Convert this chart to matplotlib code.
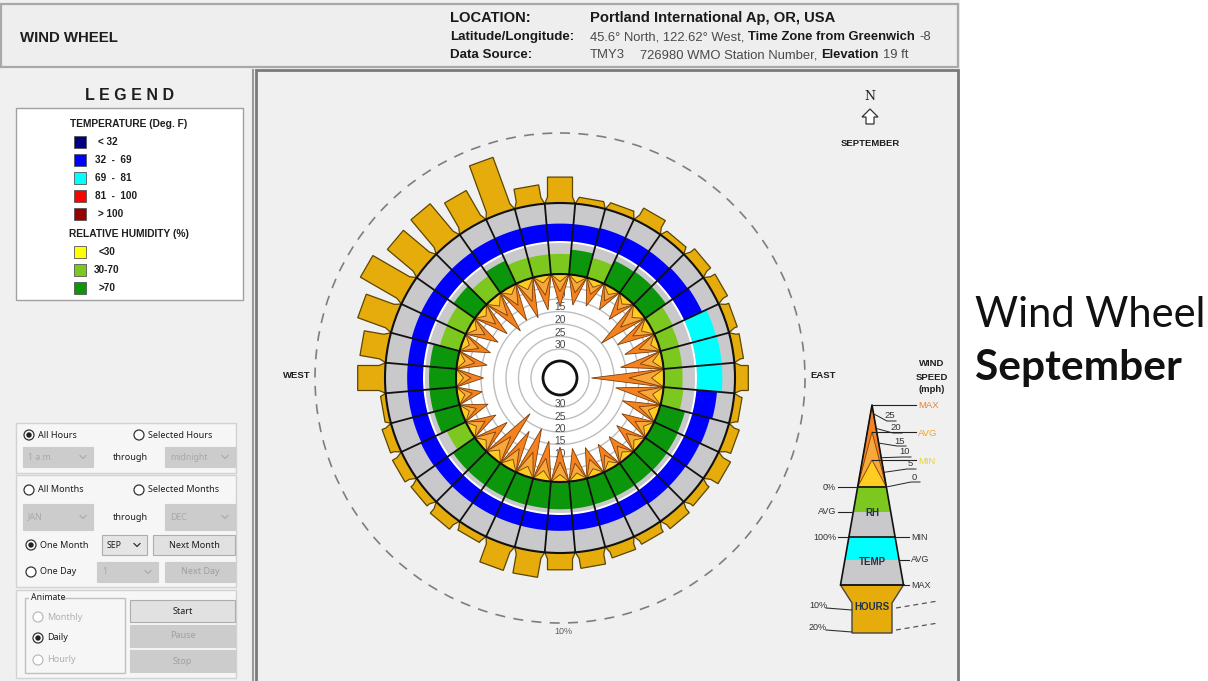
import numpy as np
import matplotlib
matplotlib.use("Agg")
import matplotlib.pyplot as plt
from matplotlib.patches import Polygon, Rectangle, Circle

FIG_W, FIG_H = 1208, 681
CX, CY = 560, 378

UI_FONT = "Liberation Sans"
CTRL_FONT = "Noto Sans"

# September wind wheel, one sector per 10 deg of compass bearing
BEARINGS = list(range(0, 360, 10))
HOURS_PCT = [3.7, 0.9, 1.0, 2.0, 0.9, 1.6, 1.6, 1.3, 1.3, 1.9,
             1.1, 1.6, 2.1, 1.3, 1.6, 1.4, 1.7, 2.3, 2.4, 3.6,
             3.6, 1.1, 1.7, 1.3, 1.6, 1.4, 0.7, 3.9, 3.7, 5.1,
             6.9, 5.7, 6.0, 4.9, 7.9, 2.7]
SPEED_MAX = [13, 12, 11, 10, 11, 20, 15, 14, 17, 29,
             19, 15, 13, 12, 11, 11, 12, 13, 14, 16,
             20, 17, 23, 14, 12, 11, 10, 11, 12, 12,
             13, 14, 17, 15, 16, 14]
SPEED_AVG = [7, 7, 6, 6, 6, 10, 8, 8, 9, 14,
             10, 8, 7, 7, 6, 6, 7, 7, 8, 9,
             10, 9, 11, 8, 7, 6, 6, 6, 7, 7,
             7, 8, 9, 8, 9, 8]
SPEED_MIN = [3, 3, 3, 3, 3, 4, 4, 3, 4, 5,
             4, 4, 3, 3, 3, 3, 3, 3, 3, 4,
             4, 4, 4, 3, 3, 3, 3, 3, 3, 3,
             3, 3, 4, 3, 4, 3]
RH_AVG = [65, 80, 66, 82, 84, 82, 66, 62, 60, 60,
          64, 82, 84, 86, 85, 86, 87, 88, 88, 87,
          88, 87, 86, 86, 68, 85, 87, 87, 86, 66,
          68, 84, 67, 82, 66, 65]
TEMP_AVG = [62, 62, 63, 63, 63, 64, 65, 71, 72, 72,
            66, 63, 62, 61, 61, 60, 60, 60, 60, 60,
            60, 60, 60, 60, 61, 60, 60, 60, 60, 61,
            61, 61, 61, 62, 62, 62]

TEMP_LABELS = ["< 32", "32  -  69", "69  -  81", "81  -  100", "> 100"]
TEMP_EDGES = [32, 69, 81, 100]
TEMP_COLORS = ["#000080", "#0000FF", "#00FFFF", "#FF0000", "#990000"]
RH_LABELS = ["<30", "30-70", ">70"]
RH_EDGES = [30, 70]
RH_COLORS = ["#FFFF00", "#7DC81E", "#0C960C"]

SPEED_RINGS = [5, 10, 15, 20, 25, 30]
SPEED_TICKS = [25, 20, 15, 10, 5, 0]

# wheel geometry in pixels
R_HUB = 17
R_CALM = 104
R_RH = 135
R_T0 = 137
R_T1 = 175
R_10PCT = 245
PX_PER_MPH = 2.5
PX_PER_PCT = (R_10PCT - R_T1) / 10
TEMP_LO, TEMP_HI = 40, 88
HALF = 5
BAR_TAPER, BAR_HALF = 6, 12.5

GRAY_BAND = "#C9C9CC"
C_MAX, C_AVG, C_MIN = "#F5821F", "#F8A83A", "#FFCC22"
C_EDGE = "#7A3E0A"
C_HOURS = "#E6AC0C"

fig = plt.figure(figsize=(FIG_W / 100, FIG_H / 100), dpi=100)
ax = fig.add_axes([0, 0, 1, 1])
ax.set_xlim(0, FIG_W)
ax.set_ylim(FIG_H, 0)
ax.axis("off")
renderer = fig.canvas.get_renderer()


def txt(x, y, s, size=7, bold=False, color="#1e1e1e", ha="left", family=UI_FONT, z=10, **kw):
    return ax.text(x, y, s, fontsize=size, fontweight="bold" if bold else "normal",
                   color=color, ha=ha, va="center", family=family, zorder=z, **kw)


def runs(x, y, parts, size, gap=4):
    for s, bold in parts:
        t = txt(x, y, s, size=size, bold=bold, color="#1a1a1a" if bold else "#4a4a4a")
        x += t.get_window_extent(renderer).width + gap


def pt(r, brg):
    a = np.radians(brg)
    return (CX + r * np.sin(a), CY - r * np.cos(a))


def arc(r, b0, b1, n=10):
    return [pt(r, b) for b in np.linspace(b0, b1, n)]


def band(r0, r1, b0, b1, color, z=4):
    ax.add_patch(Polygon(arc(r0, b0, b1) + arc(r1, b1, b0), closed=True,
                         fc=color, ec="none", zorder=z))


def hour_bar(brg, pct):
    a = np.radians(brg)
    u = np.array([np.sin(a), -np.cos(a)])
    v = np.array([np.cos(a), np.sin(a)])
    c = np.array([CX, CY])
    bu = R_T1 * np.cos(np.radians(HALF))
    bh = R_T1 * np.sin(np.radians(HALF))
    top = R_T1 + pct * PX_PER_PCT
    sh = R_T1 + BAR_TAPER
    if top <= sh:
        wt = bh + (BAR_HALF - bh) * (top - bu) / (sh - bu)
        pts = [c + bu * u - bh * v, c + top * u - wt * v,
               c + top * u + wt * v, c + bu * u + bh * v]
    else:
        pts = [c + bu * u - bh * v, c + sh * u - BAR_HALF * v, c + top * u - BAR_HALF * v,
               c + top * u + BAR_HALF * v, c + sh * u + BAR_HALF * v, c + bu * u + bh * v]
    ax.add_patch(Polygon(pts, closed=True, fc=C_HOURS, ec="#5C4600", lw=0.9, zorder=2))


def spike(brg, speed, color):
    tip = pt(R_CALM - PX_PER_MPH * speed, brg)
    ax.add_patch(Polygon(arc(R_CALM, brg + HALF, brg - HALF, 5) + [tip], closed=True,
                         fc=color, ec=C_EDGE, lw=0.6, zorder=6))


def radio(x, y, on, enabled=True):
    ax.add_patch(Circle((x, y), 5, fc="white", ec="#333333" if enabled else "#BBBBBB",
                        lw=0.9, zorder=11))
    if on:
        ax.add_patch(Circle((x, y), 2.7, fc="#222222", ec="none", zorder=12))


def dropdown(x0, y0, x1, y1, label, enabled=False):
    fc, ec, tc = ("#E5E5E5", "#ADADAD", "#1e1e1e") if enabled else ("#CCCCCC", "#CCCCCC", "#A8A8A8")
    ax.add_patch(Rectangle((x0, y0), x1 - x0, y1 - y0, fc=fc, ec=ec, lw=0.8, zorder=10))
    yc = (y0 + y1) / 2
    txt(x0 + 5, yc, label, size=6.3, color=tc, family=CTRL_FONT, z=11)
    xc = x1 - 10
    ax.plot([xc - 3, xc, xc + 3], [yc - 1.5, yc + 1.5, yc - 1.5], color=tc, lw=0.8, zorder=11)


def button(x0, y0, x1, y1, label, enabled=True):
    fc, ec, tc = ("#E1E1E1", "#ADADAD", "#1e1e1e") if enabled else ("#CCCCCC", "#CCCCCC", "#A0A0A0")
    ax.add_patch(Rectangle((x0, y0), x1 - x0, y1 - y0, fc=fc, ec=ec, lw=0.8, zorder=10))
    txt((x0 + x1) / 2, (y0 + y1) / 2, label, size=6.5, color=tc, ha="center", family=CTRL_FONT, z=11)


# ---- window frame ----
ax.add_patch(Rectangle((0, 0), 960, FIG_H, fc="#F0F0F0", ec="none", zorder=0))
ax.add_patch(Rectangle((1, 4), 957, 63, fc="#EEEEEE", ec="#A8A8A8", lw=1.6, zorder=1))
ax.add_patch(Rectangle((256, 70), 702, 615, fc="#F0F0F0", ec="#7A7A7A", lw=2, zorder=1))
ax.plot([253, 253], [70, FIG_H], color="#9A9A9A", lw=1.5, zorder=1)

# ---- header ----
txt(20, 38, "WIND WHEEL", size=10.8, bold=True)
runs(450, 18, [("LOCATION:", True)], 10.6)
runs(590, 18, [("Portland International Ap, OR, USA", True)], 10.6)
runs(450, 37, [("Latitude/Longitude:", True)], 9.6)
runs(590, 37, [("45.6° North, 122.62° West,", False), ("Time Zone from Greenwich", True), ("-8", False)], 9.4)
runs(450, 55, [("Data Source:", True)], 9.6)
runs(590, 55, [("TMY3", False), ("   726980 WMO Station Number,", False), ("Elevation", True), ("19 ft", False)], 9.4)

# ---- legend box ----
txt(130, 96, "L E G E N D", size=11.5, bold=True, ha="center")
ax.add_patch(Rectangle((16, 108), 227, 192, fc="white", ec="#A0A0A0", lw=1, zorder=2))
txt(129, 124, "TEMPERATURE (Deg. F)", size=7.4, bold=True, ha="center")
for i, (lab, col) in enumerate(zip(TEMP_LABELS, TEMP_COLORS)):
    y = 142 + 18 * i
    ax.add_patch(Rectangle((74, y - 6), 12, 12, fc=col, ec="#555555", lw=0.6, zorder=3))
    txt(95 if "-" in lab else 98, y, lab, size=7.2, bold=True)
txt(129, 234, "RELATIVE HUMIDITY (%)", size=7.4, bold=True, ha="center")
for i, (lab, col) in enumerate(zip(RH_LABELS, RH_COLORS)):
    y = 252 + 18 * i
    ax.add_patch(Rectangle((74, y - 6), 12, 12, fc=col, ec="#555555", lw=0.6, zorder=3))
    txt(94 if "-" in lab else 99, y, lab, size=7.2, bold=True)

# ---- controls ----
for (x0, y0, x1, y1) in [(16, 423, 236, 473), (16, 475, 236, 587), (16, 590, 236, 678)]:
    ax.add_patch(Rectangle((x0, y0), x1 - x0, y1 - y0, fc="#F6F6F6", ec="#D2D2D2", lw=1, zorder=2))
radio(29, 435, True)
txt(38, 435, "All Hours", size=6.5, family=CTRL_FONT)
radio(139, 435, False)
txt(148, 435, "Selected Hours", size=6.5, family=CTRL_FONT)
dropdown(23, 447, 93, 467, "1 a.m.")
txt(130, 457, "through", size=6.5, family=CTRL_FONT, ha="center")
dropdown(165, 447, 235, 467, "midnight")
radio(29, 490, False)
txt(38, 490, "All Months", size=6.5, family=CTRL_FONT)
radio(139, 490, False)
txt(148, 490, "Selected Months", size=6.5, family=CTRL_FONT)
dropdown(23, 504, 93, 530, "JAN")
txt(130, 517, "through", size=6.5, family=CTRL_FONT, ha="center")
dropdown(165, 504, 235, 530, "DEC")
radio(31, 545, True)
txt(40, 545, "One Month", size=6.5, family=CTRL_FONT)
dropdown(102, 535, 147, 555, "SEP", enabled=True)
button(153, 535, 235, 555, "Next Month")
radio(31, 572, False)
txt(40, 572, "One Day", size=6.5, family=CTRL_FONT)
dropdown(97, 562, 158, 582, "1")
button(165, 562, 235, 582, "Next Day", enabled=False)
ax.add_patch(Rectangle((25, 598), 100, 75, fc="none", ec="#C0C0C0", lw=1, zorder=10))
ax.add_patch(Rectangle((29, 593), 33, 10, fc="#F6F6F6", ec="none", zorder=10.5))
txt(31, 597, "Animate", size=6.3, family=CTRL_FONT, z=11)
radio(38, 617, False, enabled=False)
txt(47, 617, "Monthly", size=6.5, family=CTRL_FONT, color="#B0B0B0")
radio(38, 638, True)
txt(47, 638, "Daily", size=6.5, family=CTRL_FONT)
radio(38, 660, False, enabled=False)
txt(47, 660, "Hourly", size=6.5, family=CTRL_FONT, color="#B0B0B0")
button(130, 600, 235, 622, "Start")
button(130, 625, 235, 647, "Pause", enabled=False)
button(130, 650, 235, 672, "Stop", enabled=False)

# ---- wind wheel ----
ax.add_patch(Circle((CX, CY), R_10PCT, fc="none", ec="#7E7E7E", lw=1.2,
                    ls=(0, (6, 5)), zorder=1.5))
for b, p in zip(BEARINGS, HOURS_PCT):
    hour_bar(b, p)
ax.add_patch(Circle((CX, CY), R_T1, fc="white", ec="none", zorder=3))

for b, rh, t in zip(BEARINGS, RH_AVG, TEMP_AVG):
    b0, b1 = b - HALF, b + HALF
    band(R_CALM, R_RH, b0, b1, GRAY_BAND)
    band(R_CALM, R_CALM + (R_RH - R_CALM) * rh / 100, b0, b1,
         RH_COLORS[np.digitize(rh, RH_EDGES)], z=4.1)
    band(R_T0, R_T1, b0, b1, GRAY_BAND)
    frac = (t - TEMP_LO) / (TEMP_HI - TEMP_LO)
    band(R_T0, R_T0 + (R_T1 - R_T0) * frac, b0, b1,
         TEMP_COLORS[np.digitize(t, TEMP_EDGES)], z=4.1)

for s in SPEED_RINGS:
    ax.add_patch(Circle((CX, CY), R_CALM - PX_PER_MPH * s, fc="none", ec="#BDBDBD", lw=1.0, zorder=5))
for s in SPEED_RINGS[1:]:
    r = R_CALM - PX_PER_MPH * s
    txt(CX, CY - r - 4, str(s), size=7.4, color="#4A4A4A", ha="center", z=5.5)
    txt(CX, CY + r - 3, str(s), size=7.4, color="#4A4A4A", ha="center", z=5.5)

for b, smax, savg, smin in zip(BEARINGS, SPEED_MAX, SPEED_AVG, SPEED_MIN):
    spike(b, smax, C_MAX)
    spike(b, savg, C_AVG)
    spike(b, smin, C_MIN)

for b in BEARINGS:
    (x0, y0), (x1, y1) = pt(R_CALM, b - HALF), pt(R_T1, b - HALF)
    ax.plot([x0, x1], [y0, y1], color="#111111", lw=1.3, zorder=7)
for r in (R_CALM, R_T1):
    ax.add_patch(Circle((CX, CY), r, fc="none", ec="#111111", lw=1.5, zorder=7))
ax.add_patch(Circle((CX, CY), R_HUB, fc="white", ec="#111111", lw=2, zorder=8))

txt(297, 375, "WEST", size=6.8, bold=True, ha="center")
txt(823, 375, "EAST", size=6.8, bold=True, ha="center")
txt(CX + 3, CY + R_10PCT + 8, "10%", size=6.5, color="#606060", ha="center")

# north arrow
txt(870, 97, "N", size=9, family="DejaVu Serif", ha="center")
ax.add_patch(Polygon([(870, 109), (878, 117), (874, 117), (874, 124), (866, 124), (866, 117), (862, 117)],
                     closed=True, fc="white", ec="#333333", lw=0.9, zorder=10))
txt(870, 143, "SEPTEMBER", size=6.8, bold=True, ha="center")

# ---- wind wheel key ----
LX, APEX = 872, 405
Y0, Y_RH, Y100, Y_T, YMAX = 487, 512, 537, 560, 585
SLOPE = 0.175


def hw(y):
    return SLOPE * (y - APEX)


def trap(ya, yb, color):
    ax.add_patch(Polygon([(LX - hw(ya), ya), (LX + hw(ya), ya), (LX + hw(yb), yb), (LX - hw(yb), yb)],
                         closed=True, fc=color, ec="none", zorder=9))


for ytip, col in [(APEX, C_MAX), (432, C_AVG), (460, C_MIN)]:
    ax.add_patch(Polygon([(LX, ytip), (LX + hw(Y0), Y0), (LX - hw(Y0), Y0)], closed=True,
                         fc=col, ec=C_EDGE, lw=0.6, zorder=9))
trap(Y0, Y_RH, RH_COLORS[1])
trap(Y_RH, Y100, GRAY_BAND)
trap(Y100, Y_T, TEMP_COLORS[2])
trap(Y_T, YMAX, GRAY_BAND)
ax.plot([LX - hw(YMAX), LX, LX + hw(YMAX)], [YMAX, APEX, YMAX], color="#111111", lw=1.2, zorder=10)
ax.add_patch(Polygon([(LX - hw(YMAX), YMAX), (LX + hw(YMAX), YMAX), (892, 603), (892, 633), (852, 633), (852, 603)],
                     closed=True, fc=C_HOURS, ec="#444444", lw=1, zorder=9))
for y in (Y0, Y100, YMAX):
    ax.plot([LX - hw(y), LX + hw(y)], [y, y], color="#111111", lw=1.2, zorder=10)

for ytip, lab, col in [(APEX, "MAX", "#F08228"), (432, "AVG", "#F5A623"), (460, "MIN", "#EBD21E")]:
    ax.plot([LX, 916], [ytip, ytip], color="#222222", lw=0.8, zorder=10)
    txt(918, ytip + 1, lab, size=6.8, color=col, z=10)
for s, (lx, ly) in zip(SPEED_TICKS, [(890, 416), (896, 428), (900, 441), (905, 452), (910, 464), (914, 477)]):
    ye = Y0 - s * (Y0 - APEX) / 28
    ax.plot([LX + hw(ye), lx - 3, lx + 6], [ye, ly + 5, ly + 5], color="#222222", lw=0.7, zorder=10)
    txt(lx, ly, str(s), size=6.8, color="#333333", ha="center", z=10)

for y, lab in [(Y0, "0%"), (Y_RH, "AVG"), (Y100, "100%")]:
    ax.plot([838, LX - hw(y)], [y, y], color="#222222", lw=0.8, zorder=10)
    txt(836, y, lab, size=6.5, color="#333333", ha="right", z=10)
for y, lab in [(Y100, "MIN"), (Y_T, "AVG"), (YMAX, "MAX")]:
    ax.plot([LX + hw(y), 909], [y, y], color="#222222", lw=0.8, zorder=10)
    txt(911, y, lab, size=6.5, color="#333333", z=10)
txt(LX, 513, "RH", size=7, bold=True, color="#223344", ha="center", z=11)
txt(LX, 562, "TEMP", size=7, bold=True, color="#223344", ha="center", z=11)
txt(LX, 607, "HOURS", size=7, bold=True, color="#223344", ha="center", z=11)
for y, lab in [(608, "10%"), (630, "20%")]:
    txt(818, y - 3, lab, size=6.5, color="#333333", ha="center", z=10)
    ax.plot([826, 852], [y, y + 2], color="#333333", lw=0.8, zorder=10)
    ax.plot([896, 938], [y, y - 7], color="#555555", lw=0.9, ls=(0, (4, 3)), zorder=10)
txt(932, 364, "WIND", size=6.8, bold=True, ha="center")
txt(932, 377, "SPEED", size=6.8, bold=True, ha="center")
txt(932, 389, "(mph)", size=6.8, bold=True, ha="center")

# ---- title beside the window ----
txt(975, 315, "Wind Wheel", size=30, family="Lato", color="#111111")
txt(975, 368, "September", size=30.5, bold=True, family="Lato", color="#111111")

fig.savefig("out.png", dpi=100, facecolor="white")
